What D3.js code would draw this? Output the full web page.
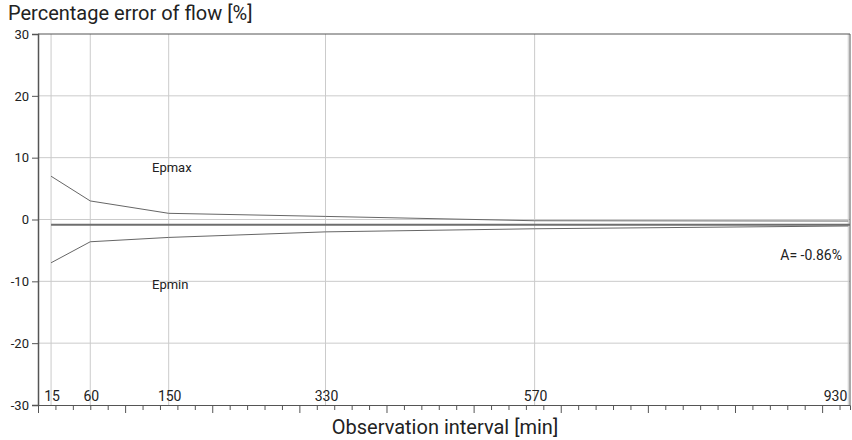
<!DOCTYPE html>
<html>
<head>
<meta charset="utf-8">
<script src="https://cdn.jsdelivr.net/npm/d3@7"></script>
<style>
  body { margin: 0; background: #fff; }
  svg text { font-family: Roboto, "Liberation Sans", sans-serif; fill: #222; }
</style>
</head>
<body>
<div id="chart"></div>
<script>
// observation intervals [min]
var intervals = [15, 60, 150, 330, 570, 930];
// upper / lower error limits [%]
var epmax = [7, 3, 1, 0.5, -0.2, -0.25];
var epmin = [-7, -3.6, -2.9, -2.0, -1.5, -1.05];
var meanError = -0.86;
var yTicks = [-30, -20, -10, 0, 10, 20, 30];

function plot() {
  var width = 852, height = 440;
  var left = 38, right = 850, top = 34, bottom = 405;

  var x = d3.scaleLinear().domain([0, 932]).range([left, right]);
  var y = d3.scaleLinear().domain([-30, 30]).range([bottom, top]);

  var svg = d3.select("#chart").append("svg")
    .attr("width", width)
    .attr("height", height);

  // grid
  svg.append("g").selectAll("line.h")
    .data(yTicks.slice(1, -1))
    .enter().append("line")
    .attr("x1", left).attr("x2", right)
    .attr("y1", function(d) { return y(d); })
    .attr("y2", function(d) { return y(d); })
    .attr("stroke", "#cbcbcb").attr("stroke-width", 1);

  svg.append("g").selectAll("line.v")
    .data(intervals)
    .enter().append("line")
    .attr("x1", function(d) { return x(d); })
    .attr("x2", function(d) { return x(d); })
    .attr("y1", top).attr("y2", bottom)
    .attr("stroke", "#cbcbcb").attr("stroke-width", 1);

  // frame
  svg.append("line").attr("x1", left).attr("x2", right).attr("y1", top).attr("y2", top)
    .attr("stroke", "#555").attr("stroke-width", 1);
  svg.append("line").attr("x1", right).attr("x2", right).attr("y1", top).attr("y2", bottom)
    .attr("stroke", "#555").attr("stroke-width", 1);

  // y axis
  var yAxis = svg.append("g")
    .attr("transform", "translate(" + left + ",0)")
    .call(d3.axisLeft(y).tickValues(yTicks).tickSize(6).tickPadding(3)
      .tickFormat(function(d) { return String(d); }));
  yAxis.select(".domain").attr("stroke", "#555").attr("stroke-width", 1.5);
  yAxis.selectAll(".tick line").attr("stroke", "#555");
  yAxis.selectAll("text").style("font-size", "13px").attr("fill", "#222");

  // x axis: minor ticks every 20 min, major every 100
  var minor = d3.range(0, 932, 20);
  var xAxis = svg.append("g")
    .attr("transform", "translate(0," + bottom + ")")
    .call(d3.axisBottom(x).tickValues(minor).tickSize(5).tickFormat(""));
  xAxis.selectAll(".tick line")
    .attr("y2", function(d) { return d % 100 === 0 ? 8 : 5; })
    .attr("stroke", "#555");
  xAxis.select(".domain").attr("stroke", "#555").attr("stroke-width", 1);

  // interval labels inside plot
  svg.append("g").selectAll("text")
    .data(intervals)
    .enter().append("text")
    .attr("x", function(d, i) { return i === intervals.length - 1 ? x(d) - 1 : x(d) + 1; })
    .attr("y", bottom - 4)
    .attr("text-anchor", function(d, i) { return i === intervals.length - 1 ? "end" : "middle"; })
    .style("font-size", "14px")
    .text(function(d) { return d; });

  // mean error line
  svg.append("line")
    .attr("x1", x(intervals[0])).attr("x2", right)
    .attr("y1", y(meanError)).attr("y2", y(meanError))
    .attr("stroke", "#6e6e6e").attr("stroke-width", 2);

  var line = d3.line()
    .x(function(d) { return x(d[0]); })
    .y(function(d) { return y(d[1]); });

  [epmax, epmin].forEach(function(s) {
    svg.append("path")
      .datum(intervals.map(function(t, i) { return [t, s[i]]; }))
      .attr("d", line)
      .attr("fill", "none")
      .attr("stroke", "#666")
      .attr("stroke-width", 1);
  });

  // labels
  svg.append("text").attr("x", 152).attr("y", 172).style("font-size", "13px").text("Epmax");
  svg.append("text").attr("x", 152).attr("y", 289).style("font-size", "13px").text("Epmin");
  svg.append("text").attr("x", 842).attr("y", 260).attr("text-anchor", "end")
    .style("font-size", "14px").text("A= " + meanError.toFixed(2) + "%");

  svg.append("text").attr("x", 8).attr("y", 20).style("font-size", "20px")
    .text("Percentage error of flow [%]");
  svg.append("text").attr("x", 445).attr("y", 434).attr("text-anchor", "middle")
    .style("font-size", "20px").text("Observation interval [min]");
}

document.addEventListener("DOMContentLoaded", function() {
  plot();
});
</script>
</body>
</html>
